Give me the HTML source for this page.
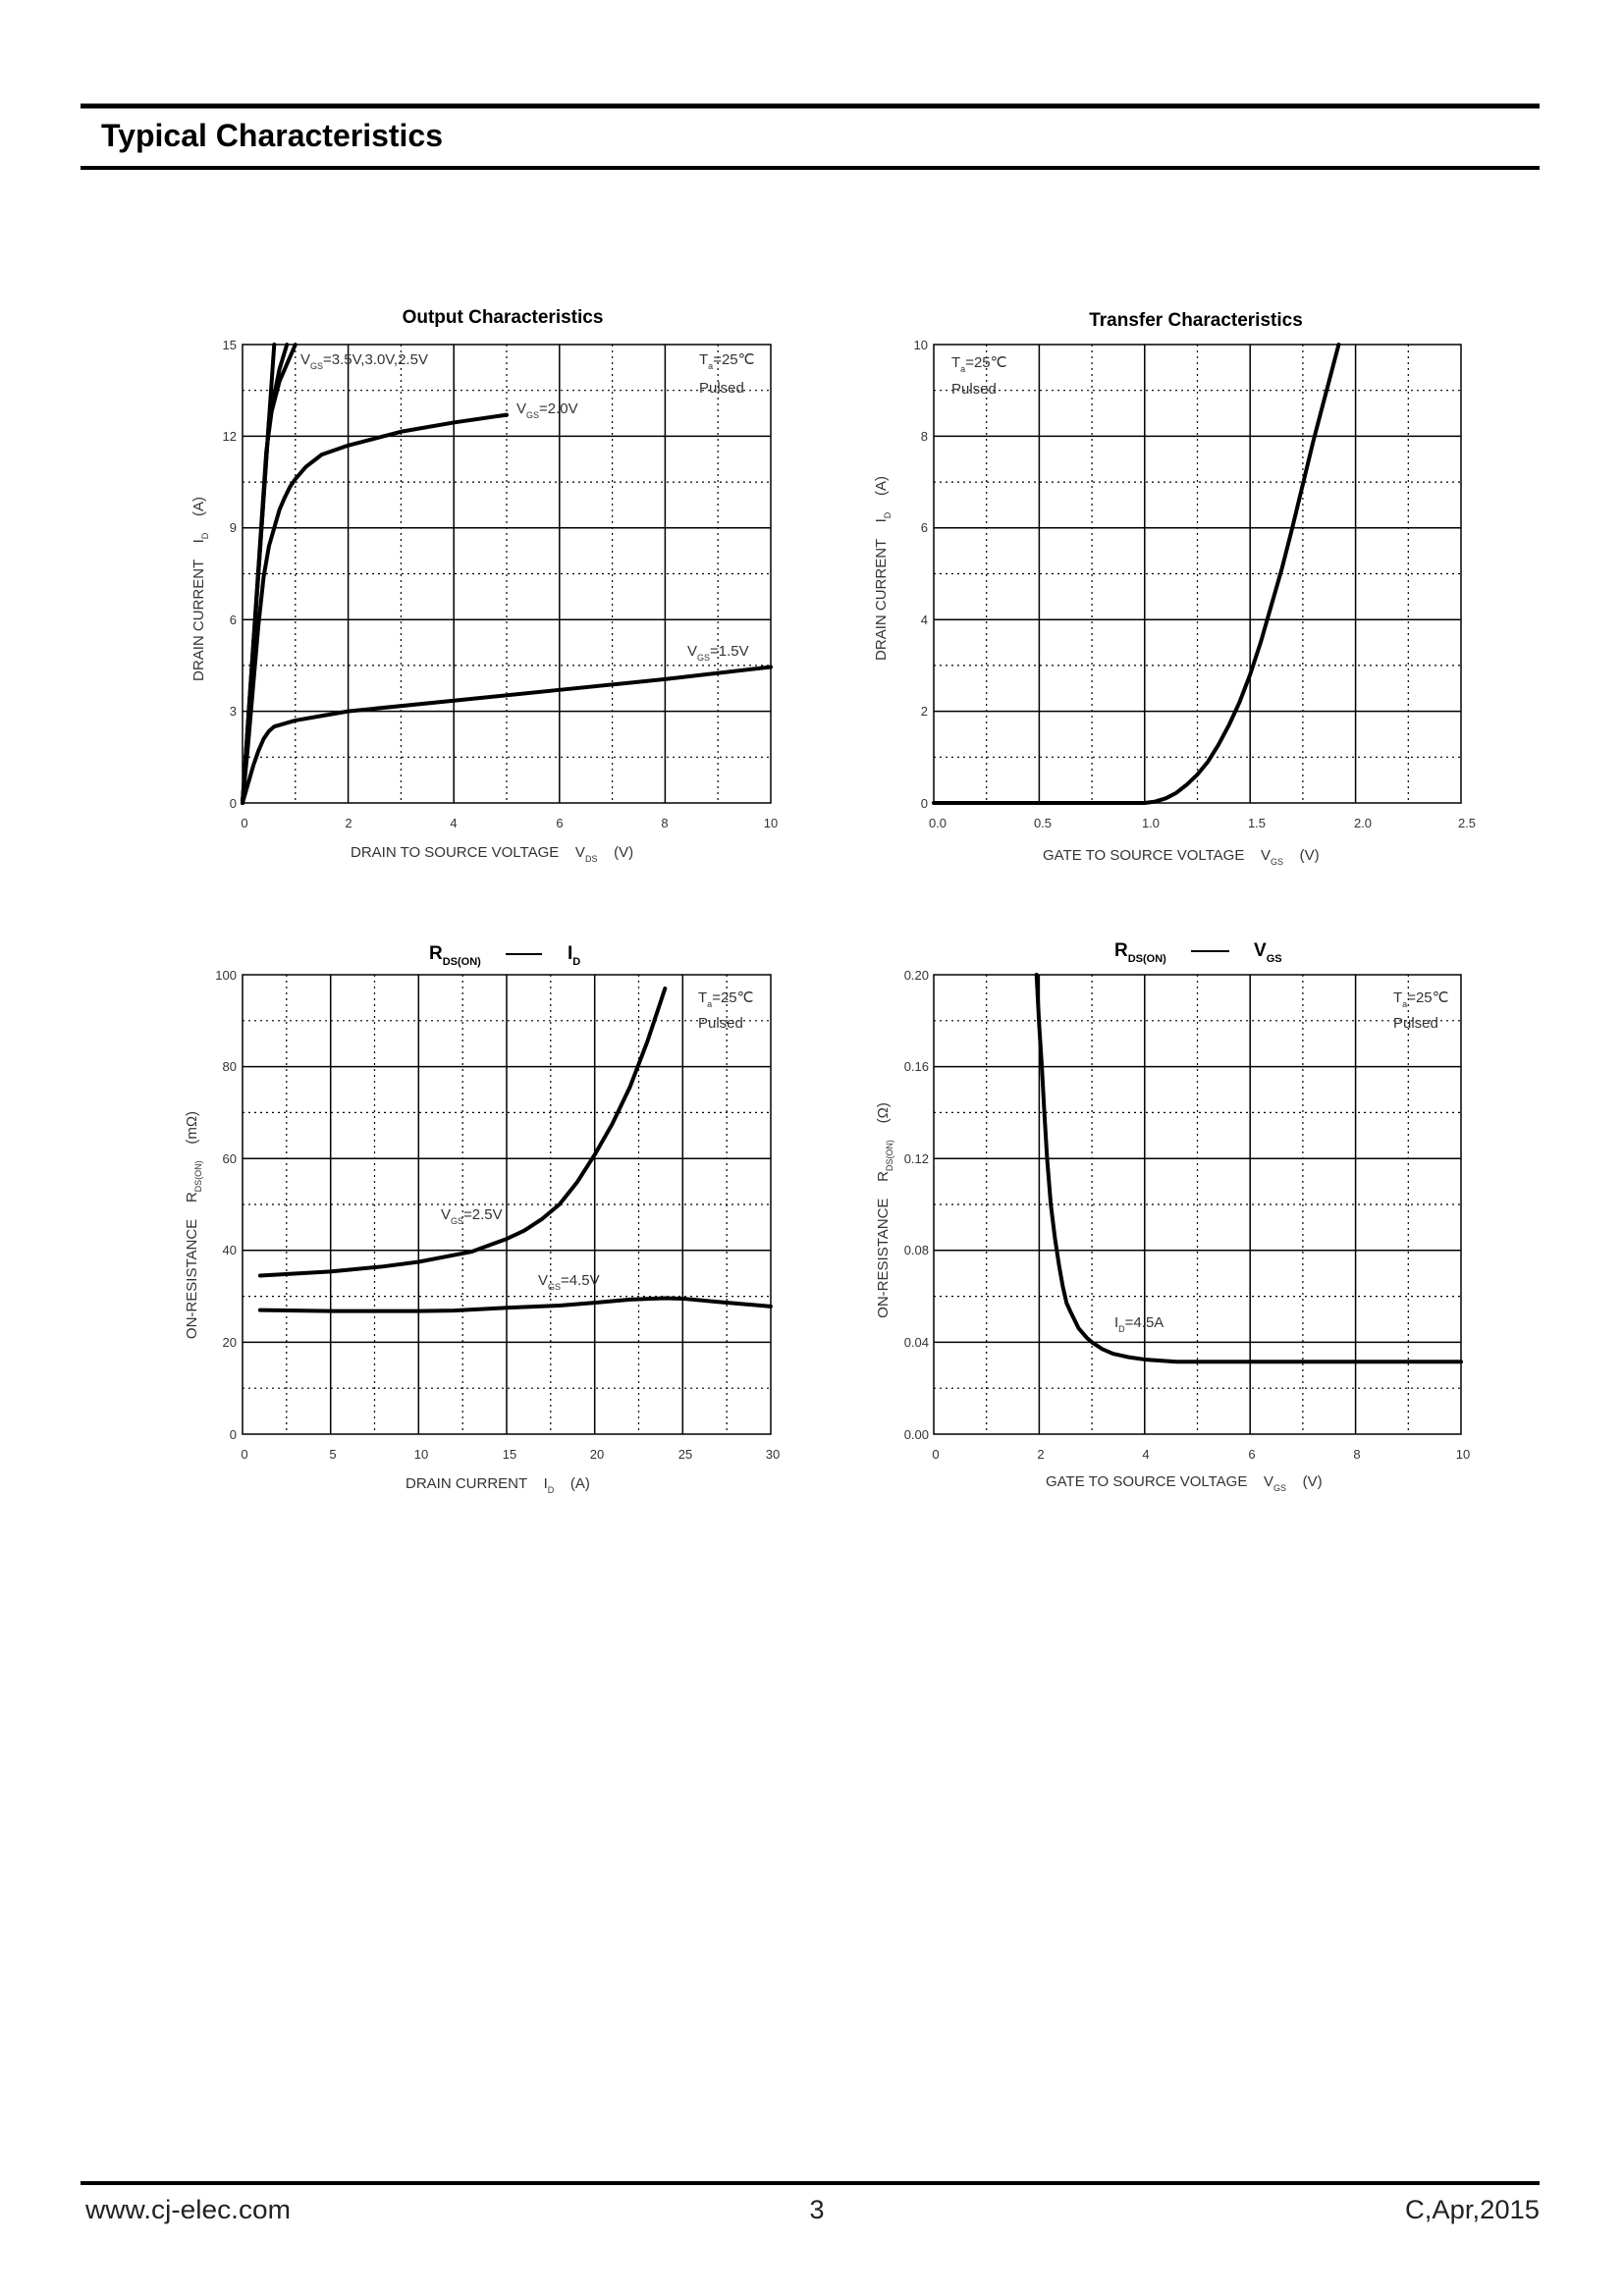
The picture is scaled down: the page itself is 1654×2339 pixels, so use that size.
<!DOCTYPE html>
<html><head><meta charset="utf-8"><style>
html,body{margin:0;padding:0;background:#fff}
svg{display:block}
text{font-family:"Liberation Sans",sans-serif;fill:#222}
.t{font-size:13px;fill:#333}
.a{font-size:15px;fill:#333}
.s{font-size:9px;fill:#333}
.h{font-size:19px;font-weight:bold;fill:#000}
.hs{font-size:11px;font-weight:bold;fill:#000}
.g{stroke:#000;stroke-width:1.5;fill:none}
.d{stroke:#000;stroke-width:1.2;stroke-dasharray:2 4;fill:none}
.c{stroke:#000;stroke-width:4;fill:none;vector-effect:non-scaling-stroke;stroke-linejoin:round;stroke-linecap:round}
</style></head><body>
<svg width="1654" height="2339" viewBox="0 0 1654 2339" xmlns="http://www.w3.org/2000/svg">
<rect width="1654" height="2339" fill="#fff"/>
<!-- header -->
<line x1="82" y1="108" x2="1568" y2="108" stroke="#000" stroke-width="5"/>
<line x1="82" y1="171" x2="1568" y2="171" stroke="#000" stroke-width="4"/>
<text x="103" y="149" style="font-size:32px;font-weight:bold;fill:#000">Typical Characteristics</text>
<!-- footer -->
<line x1="82" y1="2224" x2="1568" y2="2224" stroke="#000" stroke-width="4"/>
<text x="87" y="2260" style="font-size:27px;fill:#222" textLength="209" lengthAdjust="spacingAndGlyphs">www.cj-elec.com</text>
<text x="832" y="2260" style="font-size:27px;fill:#222" text-anchor="middle">3</text>
<text x="1431" y="2260" style="font-size:27px;fill:#222" textLength="137" lengthAdjust="spacingAndGlyphs">C,Apr,2015</text>

<!-- ===== Chart 1 ===== -->
<text x="512" y="329" class="h" text-anchor="middle">Output Characteristics</text>
<g>
<path class="d" d="M300.8 351V818M408.4 351V818M516 351V818M623.6 351V818M731.2 351V818M247 771.3H785M247 677.9H785M247 584.5H785M247 491.1H785M247 397.7H785"/>
<path class="g" d="M354.6 351V818M462.2 351V818M569.8 351V818M677.4 351V818M247 724.6H785M247 631.2H785M247 537.8H785M247 444.4H785"/>
<rect x="247" y="351" width="538" height="467" class="g"/>
</g>
<g transform="translate(247,818) scale(53.8,-31.13)">
<polyline class="c" points="0,0 0.1,0.6 0.2,1.2 0.3,1.7 0.4,2.1 0.5,2.35 0.6,2.5 0.8,2.6 1,2.7 1.5,2.85 2,3.0 4,3.35 6,3.7 8,4.05 10,4.45"/>
<polyline class="c" points="0,0 0.1,1.8 0.2,3.8 0.3,5.8 0.4,7.4 0.5,8.4 0.6,9 0.7,9.6 0.8,10 0.9,10.35 1,10.6 1.2,11 1.5,11.4 2,11.7 3,12.15 4,12.45 5,12.7"/>
<polyline class="c" points="0,0 0.6,15"/>
<polyline class="c" points="0,0 0.5,12.5 0.7,14.2 0.84,15"/>
<polyline class="c" points="0,0 0.45,11.5 0.55,12.8 0.7,13.8 1.0,15"/>
</g>
<g text-anchor="end">
<text x="241" y="356" class="t">15</text><text x="241" y="449" class="t">12</text><text x="241" y="542" class="t">9</text><text x="241" y="636" class="t">6</text><text x="241" y="729" class="t">3</text><text x="241" y="823" class="t">0</text>
</g>
<g text-anchor="middle">
<text x="249" y="843" class="t">0</text><text x="355" y="843" class="t">2</text><text x="462" y="843" class="t">4</text><text x="570" y="843" class="t">6</text><text x="677" y="843" class="t">8</text><text x="785" y="843" class="t">10</text>
</g>
<text x="357" y="873" class="a" xml:space="preserve">DRAIN TO SOURCE VOLTAGE    V<tspan class="s" dy="5">DS</tspan><tspan dy="-5">    (V)</tspan></text>
<text transform="translate(207,600) rotate(-90)" text-anchor="middle" class="a" xml:space="preserve">DRAIN CURRENT    I<tspan class="s" dy="5">D</tspan><tspan dy="-5">    (A)</tspan></text>
<text x="306" y="371" class="a">V<tspan class="s" dy="5">GS</tspan><tspan dy="-5">=3.5V,3.0V,2.5V</tspan></text>
<text x="712" y="371" class="a">T<tspan class="s" dy="5">a</tspan><tspan dy="-5">=25℃</tspan></text>
<text x="712" y="400" class="a">Pulsed</text>
<text x="526" y="421" class="a">V<tspan class="s" dy="5">GS</tspan><tspan dy="-5">=2.0V</tspan></text>
<text x="700" y="668" class="a">V<tspan class="s" dy="5">GS</tspan><tspan dy="-5">=1.5V</tspan></text>

<!-- ===== Chart 2 ===== -->
<text x="1218" y="332" class="h" text-anchor="middle">Transfer Characteristics</text>
<g>
<path class="d" d="M1004.7 351V818M1112.1 351V818M1219.5 351V818M1326.9 351V818M1434.3 351V818M951 771.3H1488M951 677.9H1488M951 584.5H1488M951 491.1H1488M951 397.7H1488"/>
<path class="g" d="M1058.4 351V818M1165.8 351V818M1273.2 351V818M1380.6 351V818M951 724.6H1488M951 631.2H1488M951 537.8H1488M951 444.4H1488"/>
<rect x="951" y="351" width="537" height="467" class="g"/>
</g>
<g transform="translate(951,818) scale(214.8,-46.7)">
<polyline class="c" points="0,0 1.0,0 1.05,0.03 1.1,0.1 1.15,0.22 1.2,0.4 1.25,0.62 1.3,0.9 1.35,1.27 1.4,1.7 1.45,2.2 1.5,2.8 1.55,3.5 1.6,4.3 1.65,5.1 1.7,6.0 1.75,6.95 1.8,7.9 1.86,8.95 1.92,10"/>
</g>
<g text-anchor="end">
<text x="945" y="356" class="t">10</text><text x="945" y="449" class="t">8</text><text x="945" y="542" class="t">6</text><text x="945" y="636" class="t">4</text><text x="945" y="729" class="t">2</text><text x="945" y="823" class="t">0</text>
</g>
<g text-anchor="middle">
<text x="955" y="843" class="t">0.0</text><text x="1062" y="843" class="t">0.5</text><text x="1172" y="843" class="t">1.0</text><text x="1280" y="843" class="t">1.5</text><text x="1388" y="843" class="t">2.0</text><text x="1494" y="843" class="t">2.5</text>
</g>
<text x="1062" y="876" class="a" xml:space="preserve">GATE TO SOURCE VOLTAGE    V<tspan class="s" dy="5">GS</tspan><tspan dy="-5">    (V)</tspan></text>
<text transform="translate(902,579) rotate(-90)" text-anchor="middle" class="a" xml:space="preserve">DRAIN CURRENT    I<tspan class="s" dy="5">D</tspan><tspan dy="-5">    (A)</tspan></text>
<text x="969" y="374" class="a">T<tspan class="s" dy="5">a</tspan><tspan dy="-5">=25℃</tspan></text>
<text x="969" y="401" class="a">Pulsed</text>

<!-- ===== Chart 3 ===== -->
<text x="437" y="977" class="h">R<tspan class="hs" dy="6">DS(ON)</tspan></text>
<line x1="515" y1="972" x2="552" y2="972" stroke="#000" stroke-width="2"/>
<text x="578" y="977" class="h">I<tspan class="hs" dy="6">D</tspan></text>
<g>
<path class="d" d="M291.8 993V1461M381.5 993V1461M471.2 993V1461M560.8 993V1461M650.5 993V1461M740.2 993V1461M247 1414.2H785M247 1320.6H785M247 1227H785M247 1133.4H785M247 1039.8H785"/>
<path class="g" d="M336.7 993V1461M426.3 993V1461M516 993V1461M605.7 993V1461M695.3 993V1461M247 1367.4H785M247 1273.8H785M247 1180.2H785M247 1086.6H785"/>
<rect x="247" y="993" width="538" height="468" class="g"/>
</g>
<g transform="translate(247,1461) scale(17.93,-4.68)">
<polyline class="c" points="1,34.5 5,35.4 8,36.5 10,37.5 13,39.7 15,42.5 16,44.3 17,46.8 18,50 19,54.8 20,60.8 21,67.5 22,75.5 23,85.5 24,97"/>
<polyline class="c" points="1,27 5,26.8 10,26.8 12,26.9 15,27.5 18,28 20,28.6 22,29.3 24,29.6 25,29.5 27,28.8 30,27.8"/>
</g>
<g text-anchor="end">
<text x="241" y="998" class="t">100</text><text x="241" y="1091" class="t">80</text><text x="241" y="1185" class="t">60</text><text x="241" y="1278" class="t">40</text><text x="241" y="1372" class="t">20</text><text x="241" y="1466" class="t">0</text>
</g>
<g text-anchor="middle">
<text x="249" y="1486" class="t">0</text><text x="339" y="1486" class="t">5</text><text x="429" y="1486" class="t">10</text><text x="519" y="1486" class="t">15</text><text x="608" y="1486" class="t">20</text><text x="698" y="1486" class="t">25</text><text x="787" y="1486" class="t">30</text>
</g>
<text x="413" y="1516" class="a" xml:space="preserve">DRAIN CURRENT    I<tspan class="s" dy="5">D</tspan><tspan dy="-5">    (A)</tspan></text>
<text transform="translate(200,1248) rotate(-90)" text-anchor="middle" class="a" xml:space="preserve">ON-RESISTANCE    R<tspan class="s" dy="5">DS(ON)</tspan><tspan dy="-5">    (mΩ)</tspan></text>
<text x="711" y="1021" class="a">T<tspan class="s" dy="5">a</tspan><tspan dy="-5">=25℃</tspan></text>
<text x="711" y="1047" class="a">Pulsed</text>
<text x="449" y="1242" class="a">V<tspan class="s" dy="5">GS</tspan><tspan dy="-5">=2.5V</tspan></text>
<text x="548" y="1309" class="a">V<tspan class="s" dy="5">GS</tspan><tspan dy="-5">=4.5V</tspan></text>

<!-- ===== Chart 4 ===== -->
<text x="1135" y="974" class="h">R<tspan class="hs" dy="6">DS(ON)</tspan></text>
<line x1="1213" y1="969" x2="1252" y2="969" stroke="#000" stroke-width="2"/>
<text x="1277" y="974" class="h">V<tspan class="hs" dy="6">GS</tspan></text>
<g>
<path class="d" d="M1004.7 993V1461M1112.1 993V1461M1219.5 993V1461M1326.9 993V1461M1434.3 993V1461M951 1414.2H1488M951 1320.6H1488M951 1227H1488M951 1133.4H1488M951 1039.8H1488"/>
<path class="g" d="M1058.4 993V1461M1165.8 993V1461M1273.2 993V1461M1380.6 993V1461M951 1367.4H1488M951 1273.8H1488M951 1180.2H1488M951 1086.6H1488"/>
<rect x="951" y="993" width="537" height="468" class="g"/>
</g>
<g transform="translate(951,1461) scale(53.7,-2340)">
<polyline class="c" points="1.95,0.2 2.0,0.178 2.05,0.16 2.1,0.139 2.15,0.12 2.22,0.1 2.3,0.085 2.38,0.073 2.45,0.064 2.52,0.057 2.6,0.053 2.75,0.046 2.9,0.042 3,0.040 3.2,0.037 3.4,0.035 3.7,0.0335 4,0.0325 4.6,0.0315 10,0.0315"/>
</g>
<g text-anchor="end">
<text x="946" y="998" class="t">0.20</text><text x="946" y="1091" class="t">0.16</text><text x="946" y="1185" class="t">0.12</text><text x="946" y="1278" class="t">0.08</text><text x="946" y="1372" class="t">0.04</text><text x="946" y="1466" class="t">0.00</text>
</g>
<g text-anchor="middle">
<text x="953" y="1486" class="t">0</text><text x="1060" y="1486" class="t">2</text><text x="1167" y="1486" class="t">4</text><text x="1275" y="1486" class="t">6</text><text x="1382" y="1486" class="t">8</text><text x="1490" y="1486" class="t">10</text>
</g>
<text x="1065" y="1514" class="a" xml:space="preserve">GATE TO SOURCE VOLTAGE    V<tspan class="s" dy="5">GS</tspan><tspan dy="-5">    (V)</tspan></text>
<text transform="translate(904,1233) rotate(-90)" text-anchor="middle" class="a" xml:space="preserve">ON-RESISTANCE    R<tspan class="s" dy="5">DS(ON)</tspan><tspan dy="-5">    (Ω)</tspan></text>
<text x="1419" y="1021" class="a">T<tspan class="s" dy="5">a</tspan><tspan dy="-5">=25℃</tspan></text>
<text x="1419" y="1047" class="a">Pulsed</text>
<text x="1135" y="1352" class="a">I<tspan class="s" dy="5">D</tspan><tspan dy="-5">=4.5A</tspan></text>
</svg>
</body></html>
